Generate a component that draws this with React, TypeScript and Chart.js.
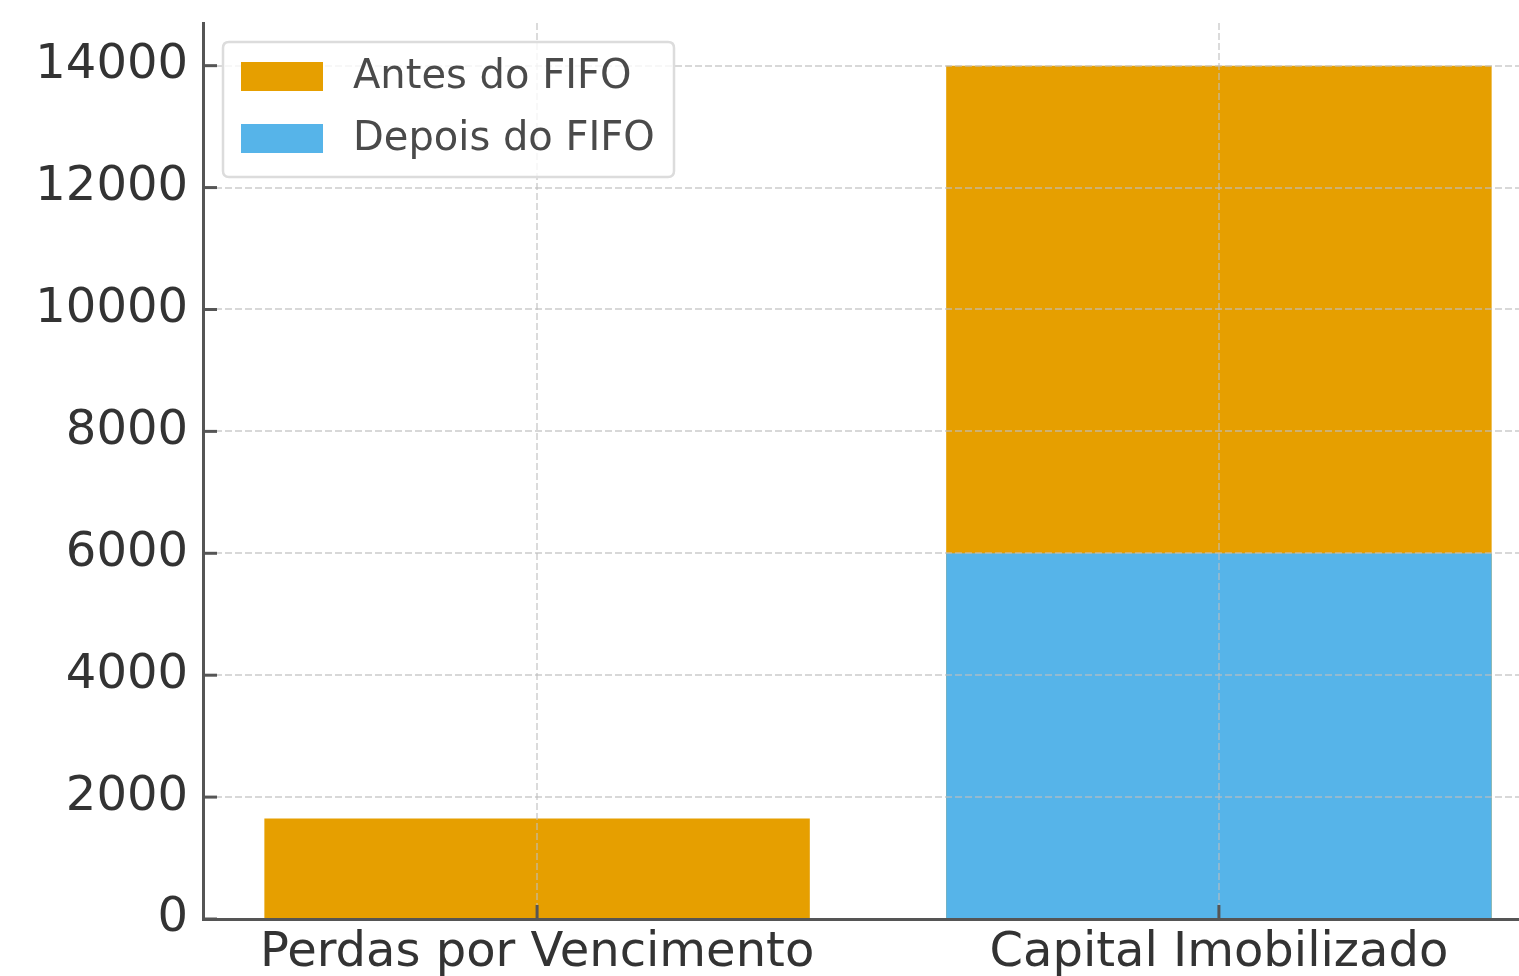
import React, { useEffect, useRef } from "react";
import { Chart, registerables } from "chart.js";

Chart.register(...registerables);

const categories = ["Perdas por Vencimento", "Capital Imobilizado"];
const antesValues = [1650, 14000];
const depoisValues = [0, 6000];
const yTickValues = [0, 2000, 4000, 6000, 8000, 10000, 12000, 14000];
const seriesLabels = ["Antes do FIFO", "Depois do FIFO"];
const seriesColors = ["#E69F00", "#56B4E9"];

const FONT = "'DejaVu Sans', sans-serif";

const insideTicksPlugin = {
  id: "insideTicks",
  afterDraw(chart: any) {
    const { ctx, chartArea } = chart;
    const xs = chart.scales.x;
    const ys = chart.scales.y;
    ctx.save();
    ctx.strokeStyle = "#555555";
    ctx.lineWidth = 3;
    ys.ticks.forEach((t: any) => {
      const py = ys.getPixelForValue(t.value);
      ctx.beginPath();
      ctx.moveTo(chartArea.left, py);
      ctx.lineTo(chartArea.left + 14, py);
      ctx.stroke();
    });
    xs.ticks.forEach((t: any) => {
      const px = xs.getPixelForValue(t.value);
      ctx.beginPath();
      ctx.moveTo(px, chartArea.bottom);
      ctx.lineTo(px, chartArea.bottom - 14);
      ctx.stroke();
    });
    ctx.restore();
  },
};

const innerLegendPlugin = {
  id: "innerLegend",
  afterDraw(chart: any) {
    const { ctx, chartArea } = chart;
    const x0 = chartArea.left + 20;
    const y0 = chartArea.top + 19;
    const w = 451;
    const h = 135;
    ctx.save();
    ctx.beginPath();
    const r = 6;
    ctx.moveTo(x0 + r, y0);
    ctx.lineTo(x0 + w - r, y0);
    ctx.quadraticCurveTo(x0 + w, y0, x0 + w, y0 + r);
    ctx.lineTo(x0 + w, y0 + h - r);
    ctx.quadraticCurveTo(x0 + w, y0 + h, x0 + w - r, y0 + h);
    ctx.lineTo(x0 + r, y0 + h);
    ctx.quadraticCurveTo(x0, y0 + h, x0, y0 + h - r);
    ctx.lineTo(x0, y0 + r);
    ctx.quadraticCurveTo(x0, y0, x0 + r, y0);
    ctx.closePath();
    ctx.fillStyle = "rgba(255,255,255,0.8)";
    ctx.fill();
    ctx.strokeStyle = "#dcdcdc";
    ctx.lineWidth = 2.5;
    ctx.stroke();
    chart.data.datasets.forEach((ds: any, i: number) => {
      const cy = y0 + 35 + i * 62;
      ctx.fillStyle = ds.backgroundColor;
      ctx.fillRect(x0 + 18, cy - 15, 82, 29);
      ctx.fillStyle = "#4a4a4a";
      ctx.font = `40px ${FONT}`;
      ctx.textBaseline = "middle";
      ctx.textAlign = "left";
      ctx.fillText(ds.label, x0 + 130, cy + 1);
    });
    ctx.restore();
  },
};

export default function App() {
  const canvasRef = useRef<HTMLCanvasElement | null>(null);

  useEffect(() => {
    const canvas = canvasRef.current;
    if (!canvas) return;
    const chart = new Chart(canvas, {
      type: "bar",
      data: {
        datasets: [
          {
            label: seriesLabels[0],
            data: antesValues.map((v, i) => ({ x: i, y: v })),
            backgroundColor: seriesColors[0],
            order: 2,
          },
          {
            label: seriesLabels[1],
            data: depoisValues.map((v, i) => ({ x: i, y: v })),
            backgroundColor: seriesColors[1],
            order: 1,
          },
        ],
      },
      options: {
        responsive: false,
        animation: false,
        devicePixelRatio: 1,
        layout: { padding: { top: 23, right: 47, left: 0, bottom: 0 } },
        datasets: {
          bar: {
            grouped: false,
            categoryPercentage: 1,
            barPercentage: 0.8,
            borderWidth: 0,
          },
        },
        plugins: {
          legend: { display: false },
          tooltip: { enabled: false },
          title: { display: false },
        },
        scales: {
          x: {
            type: "linear",
            min: -0.49,
            max: 1.49,
            offset: false,
            afterBuildTicks: (scale: any) => {
              scale.ticks = categories.map((_, i) => ({ value: i }));
            },
            afterFit: (scale: any) => {
              scale.height = 57;
              scale.paddingLeft = 0;
              scale.paddingRight = 0;
            },
            ticks: {
              callback: (v: any) => categories[v] ?? "",
              font: { family: FONT, size: 48 },
              color: "#333333",
              padding: 6,
              maxRotation: 0,
              autoSkip: false,
            },
            grid: {
              offset: false,
              drawTicks: false,
              color: "rgba(190,190,190,0.55)",
              lineWidth: 2,
              z: 1,
            },
            border: {
              display: true,
              color: "#555555",
              width: 3,
              dash: [7, 3],
              z: 2,
            } as any,
          },
          y: {
            type: "linear",
            min: 0,
            max: 14700,
            afterBuildTicks: (scale: any) => {
              scale.ticks = yTickValues.map((v) => ({ value: v }));
            },
            afterFit: (scale: any) => {
              scale.width = 203;
              scale.paddingTop = 0;
              scale.paddingBottom = 0;
            },
            ticks: {
              callback: (v: any) => String(v),
              font: { family: FONT, size: 48 },
              color: "#333333",
              padding: 15,
            },
            grid: {
              drawTicks: false,
              color: "rgba(190,190,190,0.6)",
              lineWidth: 2,
              z: 1,
            },
            border: {
              display: true,
              color: "#555555",
              width: 3,
              dash: [7, 3],
              z: 2,
            } as any,
          },
        },
      } as any,
      plugins: [insideTicksPlugin, innerLegendPlugin],
    });
    return () => chart.destroy();
  }, []);

  return (
    <div
      style={{
        position: "fixed",
        left: 0,
        top: 0,
        width: 1519,
        height: 976,
        overflow: "hidden",
        background: "#ffffff",
      }}
    >
      <canvas ref={canvasRef} width={1600} height={976} style={{ display: "block" }} />
    </div>
  );
}
